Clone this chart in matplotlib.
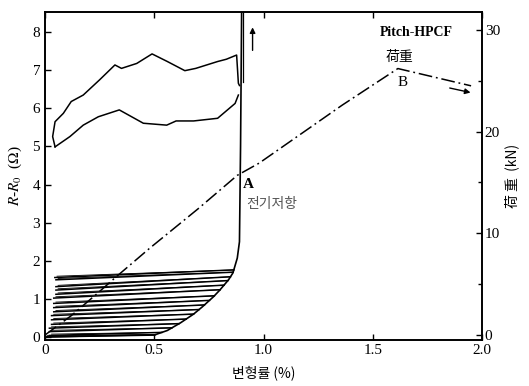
import numpy as np
import matplotlib
matplotlib.use("Agg")
import matplotlib.pyplot as plt

plt.rcParams['font.family'] = ['Liberation Serif', 'Noto Sans CJK KR', 'DejaVu Sans']
plt.rcParams['mathtext.fontset'] = 'stix'

# ---- data ----
# load curve (strain %, load kN)
load_strain = [0.0, 0.12, 0.24, 0.33, 0.48, 0.70, 0.88, 0.98, 1.18, 1.36, 1.615, 1.95]
load_kN     = [0.0, 1.9, 4.1, 5.8, 8.55, 12.4, 15.7, 16.9, 19.9, 22.6, 26.2, 24.5]

# resistance envelope (strain %, ohm)
env_strain = [0.0, 0.50, 0.56, 0.62, 0.68, 0.72, 0.77, 0.80, 0.84, 0.86, 0.88, 0.89, 0.895, 0.90]
env_ohm    = [0.0, 0.05, 0.17, 0.37, 0.60, 0.79, 1.05, 1.23, 1.50, 1.68, 2.07, 2.5, 5.0, 8.6]

# upper loop (strain %, ohm)
up_strain = [0.046, 0.035, 0.046, 0.084, 0.12, 0.175, 0.25, 0.32, 0.35, 0.42, 0.49, 0.56, 0.64, 0.69, 0.79, 0.83, 0.877, 0.885, 0.89]
up_ohm    = [4.99, 5.26, 5.65, 5.87, 6.18, 6.35, 6.75, 7.14, 7.05, 7.18, 7.43, 7.23, 6.99, 7.05, 7.23, 7.29, 7.40, 6.66, 6.6]
lo_strain = [0.046, 0.114, 0.175, 0.244, 0.34, 0.45, 0.557, 0.60, 0.68, 0.79, 0.87, 0.885]
lo_ohm    = [4.99, 5.26, 5.56, 5.78, 5.96, 5.61, 5.56, 5.67, 5.67, 5.74, 6.13, 6.35]

# hysteresis unloading lines: left strain, left ohm, right ohm (on envelope)
hys_left_x  = [0.00, 0.02, 0.02, 0.02, 0.03, 0.03, 0.03, 0.04, 0.04, 0.04, 0.04, 0.05, 0.05, 0.05, 0.05, 0.045]
hys_left_y  = [0.00, 0.04, 0.14, 0.23, 0.33, 0.45, 0.56, 0.66, 0.77, 0.88, 1.02, 1.12, 1.23, 1.32, 1.50, 1.56]
hys_right_y = [0.06, 0.12, 0.24, 0.35, 0.47, 0.60, 0.72, 0.84, 0.96, 1.08, 1.24, 1.36, 1.48, 1.58, 1.70, 1.76]

x_ticks = [0, 0.5, 1.0, 1.5, 2.0]
x_ticklabels = ['0', '0.5', '1.0', '1.5', '2.0']
y1_ticks = [0, 1, 2, 3, 4, 5, 6, 7, 8]
y2_ticks = [0, 10, 20, 30]
y2_minor = [5, 15, 25]

# ---- figure ----
fig = plt.figure(figsize=(5.29, 3.86), dpi=100)
ax = fig.add_axes([45/529, 1-340/386, (482-45)/529, (340-12)/386])
ax2 = ax.twinx()

ax.set_xlim(0, 2.0)
ax.set_ylim(-0.08, 8.53)
ax2.set_ylim(-0.49, 31.76)

# envelope & loops
ax.plot(env_strain, env_ohm, color='black', lw=1.2)
ax.plot(up_strain, up_ohm, color='black', lw=1.1)
ax.plot(lo_strain, lo_ohm, color='black', lw=1.1)
ax.plot([0.905, 0.905], [8.6, 6.7], color='black', lw=0.9)

env_y_inc = np.array(env_ohm[:12])
env_x_inc = np.array(env_strain[:12])
for lx, ly, ry in zip(hys_left_x, hys_left_y, hys_right_y):
    rx = np.interp(ry, env_y_inc[1:], env_x_inc[1:])
    ax.plot([lx, rx], [ly, ry], color='black', lw=1.1)
    ax.plot([lx + 0.01, rx], [ly + 0.035, ry], color='black', lw=0.6)

# load curve
ax2.plot(load_strain, load_kN, color='black', lw=1.1, linestyle=(0, (9, 2.5, 1.2, 2.5)))

# arrows
ax.annotate('', xy=(0.95, 8.2), xytext=(0.95, 7.45),
            arrowprops=dict(arrowstyle='-|>', color='black', lw=1.0, mutation_scale=8))
ax.annotate('', xy=(1.96, 6.4), xytext=(1.84, 6.55),
            arrowprops=dict(arrowstyle='-|>', color='black', lw=1.0, mutation_scale=8))

# texts
ax.text(1.70, 8.0, 'Pitch-HPCF', fontsize=10, fontweight='bold', ha='center', va='center')
ax.text(1.62, 7.35, '荷重', fontsize=10, ha='center', va='center', family=['Noto Sans CJK KR'])
ax.text(1.635, 6.67, 'B', fontsize=11, ha='center', va='center')
ax.text(0.905, 4.0, 'A', fontsize=11, ha='left', va='center', fontweight='bold')
ax.text(0.92, 3.5, '전기저항', fontsize=10, ha='left', va='center', color='#555555',
        family=['Noto Sans CJK KR'])

# ticks
ax.set_xticks(x_ticks)
ax.set_xticklabels(x_ticklabels)
ax.set_yticks(y1_ticks)
ax2.set_yticks(y2_ticks)
ax2.set_yticks(y2_minor, minor=True)
ax.tick_params(axis='both', direction='in', length=4, width=1, labelsize=11, top=True)
ax.tick_params(axis='x', pad=3)
ax2.tick_params(axis='y', which='major', direction='in', length=4, width=1, labelsize=11, pad=2)
ax2.tick_params(axis='y', which='minor', direction='in', length=3, width=1)

for a in (ax, ax2):
    for s in a.spines.values():
        s.set_linewidth(1.2)

ax.set_xlabel('변형률 (%)', fontsize=10, family=['Noto Sans CJK KR'], labelpad=6)
ax.set_ylabel(r'$R$-$R_0$  ($\Omega$)', fontsize=11, labelpad=6)
ax2.set_ylabel('荷 重  (kN)', fontsize=10, family=['Noto Sans CJK KR', 'DejaVu Sans'], labelpad=3)

fig.savefig('out.png', dpi=100)
